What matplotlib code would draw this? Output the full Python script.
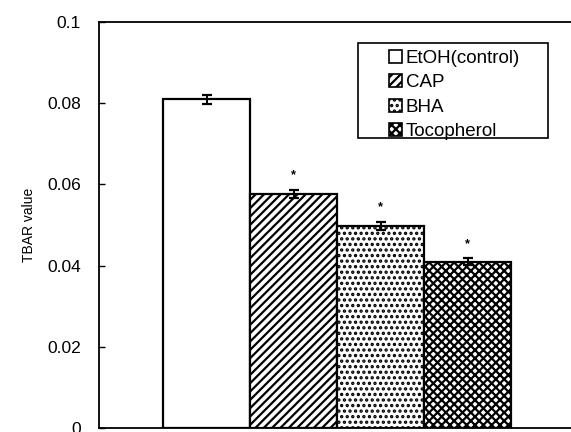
import matplotlib
matplotlib.use("Agg")
import matplotlib.pyplot as plt
from matplotlib.patches import Rectangle, Patch

plt.rcParams['font.family'] = ['Liberation Sans', 'DejaVu Sans']
plt.rcParams['hatch.linewidth'] = 1.6

categories = ["EtOH(control)", "CAP", "BHA", "Tocopherol"]
values = [0.081, 0.0577, 0.0498, 0.041]
errors = [0.0011, 0.0010, 0.0010, 0.0009]
significant = [False, True, True, True]
yticks = [0, 0.02, 0.04, 0.06, 0.08, 0.1]
ytick_labels = ["0", "0.02", "0.04", "0.06", "0.08", "0.1"]

hatches = [None, "////", "...", "xxxx"]

fig = plt.figure(figsize=(5.71, 4.32), dpi=100)
ax = fig.add_axes([99/571, 4/432, 499/571, 406/432])

x = list(range(len(categories)))
handles = []
for xi, v, h, lab in zip(x, values, hatches, categories):
    ax.bar(xi, v, width=1.0, facecolor="white", edgecolor="black",
           linewidth=1.6, hatch=h, zorder=2)
    handles.append(Patch(facecolor="white", edgecolor="black", hatch=h,
                         linewidth=1.2, label=lab))

ax.errorbar(x, values, yerr=errors, fmt="none", ecolor="black",
            elinewidth=1.4, capsize=3.5, capthick=1.6, zorder=3)

for xi, v, e, s in zip(x, values, errors, significant):
    if s:
        ax.text(xi, v + e + 0.002, "*", ha="center", va="bottom",
                fontsize=9, fontweight="bold")

ax.set_xlim(-1.236, 4.5)
ax.set_ylim(0, 0.1)
ax.set_yticks(yticks)
ax.set_yticklabels(ytick_labels, fontsize=12.5)
ax.tick_params(axis="y", direction="in", length=4, width=1, pad=13)
ax.set_xticks([])
ax.spines["right"].set_visible(False)
for sp in ["left", "top", "bottom"]:
    ax.spines[sp].set_linewidth(1.3)
ax.set_ylabel("TBAR value", fontsize=10, labelpad=8)

leg = ax.legend(handles=handles, loc="upper left",
                bbox_to_anchor=(389/571, 1 - 50/432), bbox_transform=fig.transFigure,
                frameon=False, fontsize=13.5, handlelength=0.7, handleheight=0.7,
                handletextpad=0.2, labelspacing=0.38, borderpad=0, borderaxespad=0)

fig.patches.append(Rectangle((358/571, 1 - 138/432), (548 - 358)/571, (138 - 43)/432,
                             transform=fig.transFigure, fill=False,
                             edgecolor="black", linewidth=1.2))

fig.savefig("out.png", dpi=100)
